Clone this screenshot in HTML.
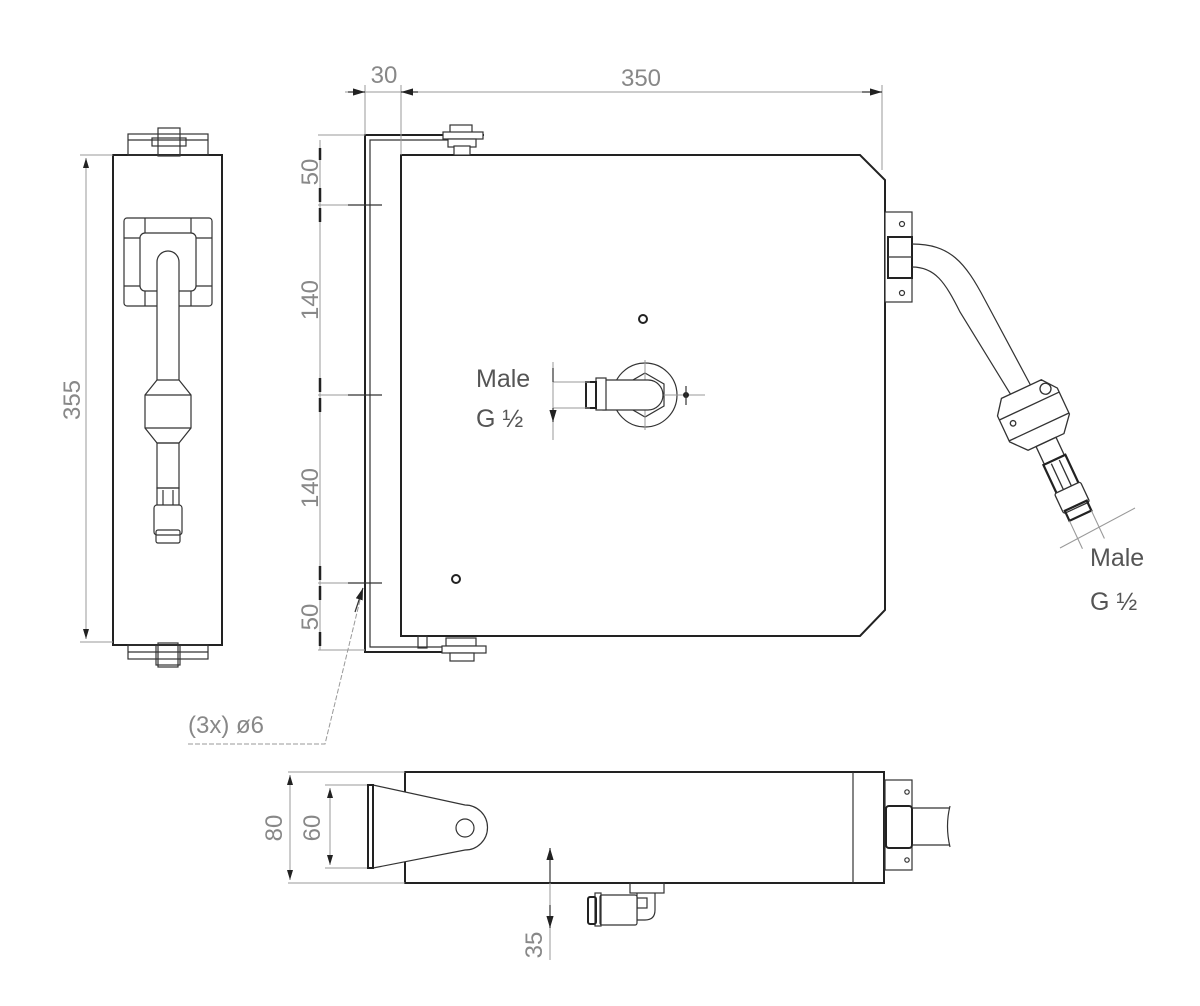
<!DOCTYPE html>
<html><head><meta charset="utf-8"><style>
html,body{margin:0;padding:0;background:#fff}
svg{display:block}
.k{stroke:#222;fill:none;stroke-width:2}
.t{stroke:#333;fill:none;stroke-width:1.2}
.d{stroke:#999;fill:none;stroke-width:1}
.w{fill:#fff}
text{font-family:"Liberation Sans",sans-serif;fill:#888}
.b{fill:#555}
</style></head><body>
<svg width="1200" height="1006" viewBox="0 0 1200 1006" xmlns="http://www.w3.org/2000/svg">
<defs>
<marker id="a" markerWidth="10" markerHeight="6" refX="10" refY="3" orient="auto-start-reverse"><path d="M0,0 L10,3 L0,6z" fill="#222"/></marker>
</defs>

<!-- ===== LEFT VIEW ===== -->
<rect x="113" y="155" width="109" height="490" class="k"/>
<rect x="128" y="134" width="80" height="21" class="t"/>
<line x1="128" y1="140" x2="208" y2="140" class="t"/>
<rect x="158" y="128" width="22" height="28" class="t"/>
<rect x="152" y="138" width="34" height="8" class="t"/>
<rect x="128" y="645" width="80" height="14" class="t"/>
<line x1="128" y1="652" x2="208" y2="652" class="t"/>
<rect x="156" y="645" width="24" height="20" class="t"/>
<rect x="158" y="643" width="20" height="24" class="t"/>
<rect x="124" y="218" width="88" height="88" rx="3" class="t" stroke-width="1.6"/>
<line x1="145" y1="218" x2="145" y2="306" class="t"/>
<line x1="191" y1="218" x2="191" y2="306" class="t"/>
<line x1="124" y1="238" x2="212" y2="238" class="t"/>
<line x1="124" y1="286" x2="212" y2="286" class="t"/>
<rect x="140" y="233" width="56" height="58" rx="5" class="t w" stroke-width="1.6"/>
<path d="M157,380 L157,262 A11,11 0 0 1 179,262 L179,380" class="t w" stroke-width="1.6"/>
<path d="M157,380 L145,395 L145,428 L157,443 L179,443 L191,428 L191,395 L179,380 Z" class="t w" stroke-width="1.6"/>
<line x1="145" y1="395" x2="191" y2="395" class="t"/>
<line x1="145" y1="428" x2="191" y2="428" class="t"/>
<rect x="157" y="443" width="22" height="45" class="t"/>
<rect x="157" y="488" width="22" height="30" class="t" stroke-width="2"/>
<line x1="163" y1="490" x2="163" y2="516" class="t"/>
<line x1="173" y1="490" x2="173" y2="516" class="t"/>
<rect x="154" y="505" width="28" height="30" rx="3" class="t w" stroke-width="1.6"/>
<rect x="156" y="530" width="24" height="13" rx="2" class="t" stroke-width="1.6"/>
<line x1="80" y1="155" x2="113" y2="155" class="d"/>
<line x1="80" y1="642" x2="113" y2="642" class="d"/>
<line x1="86" y1="158" x2="86" y2="639" class="d" marker-start="url(#a)" marker-end="url(#a)"/>
<text x="80" y="400" font-size="24" transform="rotate(-90 80 400)" text-anchor="middle">355</text>

<!-- ===== MAIN VIEW ===== -->
<path d="M484,135 L365,135 L365,652 L484,652" class="k"/>
<path d="M470,140 L370,140 L370,647 L470,647" class="t"/>
<path d="M401,155 L860,155 L885,180 L885,610 L860,636 L401,636 Z" class="k" stroke-width="2.2"/>
<rect x="450" y="125" width="22" height="10" class="t w"/>
<rect x="443" y="132" width="40" height="7" class="t w"/>
<rect x="448" y="139" width="28" height="8" class="t w"/>
<rect x="454" y="146" width="16" height="9" class="t w"/>
<rect x="446" y="638" width="30" height="8" class="t w"/>
<rect x="442" y="646" width="44" height="7" class="t w"/>
<rect x="450" y="653" width="24" height="8" class="t w"/>
<rect x="418" y="636" width="9" height="12" class="t"/>
<circle cx="643" cy="319" r="4" class="k"/>
<circle cx="456" cy="579" r="4" class="k"/>
<circle cx="645" cy="395" r="32" class="t"/>
<path d="M645,373 L664,384 L664,406 L645,417 L626,406 L626,384 Z" class="t"/>
<line x1="610" y1="395" x2="705" y2="395" class="d"/>
<line x1="645" y1="360" x2="645" y2="430" class="d"/>
<path d="M603,380 L648,380 A15,15 0 0 1 648,410 L603,410 Z" class="t w" stroke-width="1.6"/>
<rect x="596" y="378" width="10" height="32" class="t w" stroke-width="1.6"/>
<rect x="586" y="382" width="10" height="26" class="k"/>
<circle cx="686" cy="395" r="3" fill="#222"/>
<line x1="686" y1="386" x2="686" y2="405" class="t"/>
<line x1="553" y1="362" x2="553" y2="440" class="d"/>
<line x1="553" y1="382" x2="590" y2="382" class="d"/>
<line x1="553" y1="408" x2="590" y2="408" class="d"/>
<path d="M553,368 L553,382 M553,408 L553,422" class="t" marker-end="url(#a)"/>
<text x="476" y="387" font-size="25" class="b">Male</text>
<text x="476" y="427" font-size="25" class="b">G ½</text>
<rect x="885" y="212" width="27" height="90" class="t w" stroke-width="1.6"/>
<circle cx="902" cy="224" r="2.5" class="t"/>
<circle cx="902" cy="293" r="2.5" class="t"/>
<rect x="888" y="237" width="24" height="41" class="k w"/>
<line x1="888" y1="257" x2="912" y2="257" class="t"/>
<path d="M912,244 C950,244 965,262 985,300 L1031,386" class="t"/>
<path d="M912,267 C935,267 945,282 960,312 L1011,395" class="t"/>
<g transform="translate(1033,414) rotate(-25) scale(1.1)">
<path d="M-20,-25 L20,-25 L30,-12 L30,14 L18,28 L-18,28 L-30,14 L-30,-12 Z" class="t w" stroke-width="1.5"/>
<line x1="-30" y1="-8" x2="30" y2="-8" class="t"/>
<line x1="-30" y1="13" x2="30" y2="13" class="t"/>
<circle cx="20" cy="-16" r="5" class="t"/>
<circle cx="-20" cy="0" r="2.5" class="t"/>
<rect x="-10" y="28" width="20" height="18" class="t"/>
<rect x="-11" y="46" width="22" height="30" class="k"/>
<line x1="-4" y1="48" x2="-4" y2="74" class="t"/>
<line x1="4" y1="48" x2="4" y2="74" class="t"/>
<rect x="-13" y="74" width="26" height="20" rx="2" class="t w" stroke-width="1.6"/>
<rect x="-11" y="92" width="22" height="10" class="k"/>
<line x1="-11" y1="102" x2="-11" y2="130" class="d"/>
<line x1="11" y1="102" x2="11" y2="130" class="d"/>
</g>
<line x1="1060" y1="548" x2="1135" y2="508" class="d"/>
<text x="1090" y="566" font-size="25" class="b">Male</text>
<text x="1090" y="610" font-size="25" class="b">G ½</text>

<line x1="365" y1="85" x2="365" y2="135" class="d"/>
<line x1="401" y1="85" x2="401" y2="155" class="d"/>
<line x1="882" y1="85" x2="882" y2="170" class="d"/>
<line x1="345" y1="92" x2="882" y2="92" class="d"/>
<path d="M348,92 L365,92" class="t" marker-end="url(#a)"/>
<path d="M418,92 L401,92" class="t" marker-end="url(#a)"/>
<path d="M862,92 L882,92" class="t" marker-end="url(#a)"/>
<text x="384" y="83" font-size="24" text-anchor="middle">30</text>
<text x="641" y="86" font-size="24" text-anchor="middle">350</text>

<line x1="320" y1="140" x2="320" y2="650" class="d"/>
<line x1="318" y1="135" x2="365" y2="135" class="d"/>
<line x1="318" y1="650" x2="365" y2="650" class="d"/>
<line x1="318" y1="205" x2="382" y2="205" class="d"/>
<line x1="318" y1="395" x2="382" y2="395" class="d"/>
<line x1="318" y1="583" x2="382" y2="583" class="d"/>
<line x1="348" y1="205" x2="382" y2="205" class="t"/>
<line x1="348" y1="395" x2="382" y2="395" class="t"/>
<line x1="348" y1="583" x2="382" y2="583" class="t"/>
<g stroke="#222" stroke-width="2.5">
<line x1="320" y1="148" x2="320" y2="160"/><line x1="320" y1="188" x2="320" y2="202"/>
<line x1="320" y1="208" x2="320" y2="222"/><line x1="320" y1="378" x2="320" y2="392"/>
<line x1="320" y1="398" x2="320" y2="412"/><line x1="320" y1="566" x2="320" y2="580"/>
<line x1="320" y1="586" x2="320" y2="600"/><line x1="320" y1="632" x2="320" y2="646"/>
</g>
<text x="318" y="172" font-size="24" transform="rotate(-90 318 172)" text-anchor="middle">50</text>
<text x="318" y="300" font-size="24" transform="rotate(-90 318 300)" text-anchor="middle">140</text>
<text x="318" y="488" font-size="24" transform="rotate(-90 318 488)" text-anchor="middle">140</text>
<text x="318" y="617" font-size="24" transform="rotate(-90 318 617)" text-anchor="middle">50</text>
<path d="M188,744 L325,744 L362,592" class="d" stroke-dasharray="5,2"/>
<path d="M355,612 L363,588" class="t" marker-end="url(#a)"/>
<text x="188" y="733" font-size="24">(3x)  ø6</text>

<!-- ===== BOTTOM VIEW ===== -->
<rect x="405" y="772" width="479" height="111" class="k"/>
<line x1="853" y1="772" x2="853" y2="883" class="t"/>
<line x1="288" y1="772" x2="405" y2="772" class="d"/>
<line x1="288" y1="883" x2="405" y2="883" class="d"/>
<line x1="325" y1="785" x2="370" y2="785" class="d"/>
<line x1="325" y1="868" x2="370" y2="868" class="d"/>
<line x1="290" y1="775" x2="290" y2="880" class="d" marker-start="url(#a)" marker-end="url(#a)"/>
<line x1="330" y1="788" x2="330" y2="865" class="d" marker-start="url(#a)" marker-end="url(#a)"/>
<text x="282" y="828" font-size="24" transform="rotate(-90 282 828)" text-anchor="middle">80</text>
<text x="320" y="828" font-size="24" transform="rotate(-90 320 828)" text-anchor="middle">60</text>
<path d="M373,785 L465,805 A22,22 0 0 1 465,850 L373,868" class="t w" stroke-width="1.6"/>
<rect x="368" y="785" width="5" height="83" class="k"/>
<circle cx="465" cy="828" r="9" class="t" stroke-width="1.6"/>
<rect x="885" y="780" width="27" height="90" class="t w" stroke-width="1.6"/>
<circle cx="907" cy="792" r="2.2" class="t"/>
<circle cx="907" cy="860" r="2.2" class="t"/>
<rect x="886" y="806" width="26" height="42" rx="3" class="k w"/>
<path d="M912,808 L950,808 M912,845 L950,845 M950,806 Q945,826 950,847" class="t"/>
<line x1="550" y1="848" x2="550" y2="960" class="d"/>
<path d="M550,848 L550,883" class="t" marker-start="url(#a)"/>
<path d="M550,905 L550,928" class="t" marker-end="url(#a)"/>
<text x="542" y="945" font-size="24" transform="rotate(-90 542 945)" text-anchor="middle">35</text>
<rect x="630" y="883" width="34" height="10" class="t"/>
<path d="M637,893 L637,920 L645,920 Q655,920 655,910 L655,893" class="t"/>
<rect x="637" y="898" width="10" height="10" class="t"/>
<rect x="600" y="895" width="37" height="30" rx="2" class="t w" stroke-width="1.6"/>
<rect x="595" y="893" width="6" height="33" class="t"/>
<rect x="588" y="897" width="8" height="27" rx="2" class="k"/>
</svg>
</body></html>
